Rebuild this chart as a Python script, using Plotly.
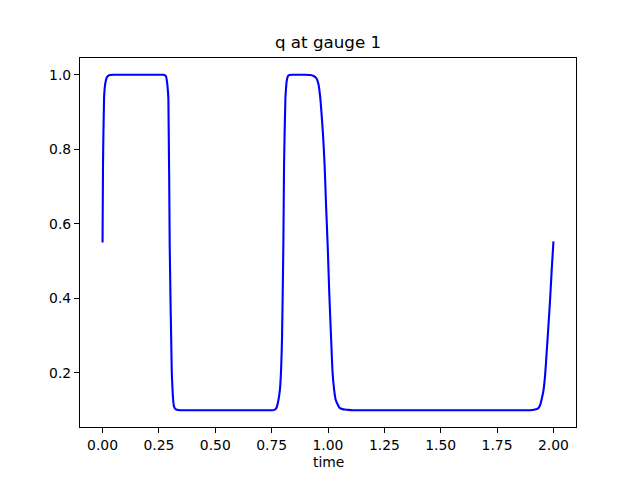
import plotly.graph_objects as go

# time and q values
time = [0.0, 0.002, 0.0067, 0.011, 0.015, 0.020, 0.026, 0.033, 0.05, 0.10, 0.20,
        0.268, 0.276, 0.282, 0.285, 0.288, 0.292, 0.298, 0.307, 0.310, 0.313,
        0.317, 0.322, 0.330, 0.344, 0.40, 0.50, 0.60, 0.70,
        0.752, 0.762, 0.770, 0.775, 0.781, 0.787, 0.792, 0.796, 0.802,
        0.805, 0.811, 0.814, 0.817, 0.823, 0.830, 0.841, 0.87,
        0.898, 0.928, 0.938, 0.945, 0.950, 0.958, 0.965, 0.971, 0.978, 0.985,
        0.991, 0.999, 1.006, 1.014, 1.020, 1.027, 1.034, 1.045, 1.053, 1.064,
        1.076, 1.09, 1.107, 1.20, 1.40, 1.60, 1.80, 1.896, 1.918, 1.932, 1.941,
        1.949, 1.956, 1.963, 1.970, 1.977, 1.985, 1.992, 2.0]
q = [0.55, 0.757, 0.937, 0.972, 0.985, 0.994, 0.998, 0.9995, 1.0, 1.0, 1.0,
     1.0, 0.999, 0.995, 0.985, 0.97, 0.936, 0.536, 0.203, 0.16, 0.13,
     0.11, 0.104, 0.101, 0.1, 0.1, 0.1, 0.1, 0.1,
     0.1, 0.101, 0.105, 0.113, 0.13, 0.157, 0.21, 0.291, 0.544,
     0.757, 0.936, 0.965, 0.984, 0.997, 0.9995, 1.0, 1.0,
     1.0, 0.999, 0.996, 0.993, 0.989, 0.974, 0.942, 0.899, 0.838, 0.757,
     0.656, 0.535, 0.409, 0.289, 0.204, 0.156, 0.128, 0.113, 0.1055, 0.103,
     0.102, 0.101, 0.1, 0.1, 0.1, 0.1, 0.1, 0.1, 0.102, 0.105, 0.114,
     0.133, 0.154, 0.194, 0.256, 0.320, 0.396, 0.474, 0.553]

xticks = [0.0, 0.25, 0.5, 0.75, 1.0, 1.25, 1.5, 1.75, 2.0]
yticks = [0.2, 0.4, 0.6, 0.8, 1.0]

FONT = "DejaVu Sans"

fig = go.Figure()
fig.add_trace(go.Scatter(x=time, y=q, mode="lines",
                         line=dict(color="#0000ff", width=2.1,
                                   shape="spline", smoothing=0.5),
                         showlegend=False))

axis_common = dict(showgrid=False, zeroline=False, showline=True, mirror=True,
                   linecolor="black", linewidth=1.1, ticks="outside",
                   ticklen=5, tickwidth=1.1, tickcolor="black",
                   tickfont=dict(family=FONT, size=13.9, color="black"))

# page body has an 8px margin, so offsets are compensated
fig.update_layout(
    width=640, height=480,
    margin=dict(l=72, r=72, t=50, b=61, pad=0),
    paper_bgcolor="white", plot_bgcolor="white",
    xaxis=dict(range=[-0.1, 2.1], tickvals=xticks,
               ticktext=[f"{v:.2f}" for v in xticks], **axis_common),
    yaxis=dict(range=[0.055, 1.045], tickvals=yticks,
               ticktext=[f"{v:.1f}" for v in yticks], **axis_common),
    title=dict(text="q at gauge 1", x=0.5, xref="paper",
               y=1 - 34 / 480, yanchor="middle",
               font=dict(family=FONT, size=16.7, color="black")),
    annotations=[dict(text="time", x=0.5, xref="paper", y=-0.094, yref="paper",
                      xanchor="center", yanchor="middle", showarrow=False,
                      font=dict(family=FONT, size=13.9, color="black"))],
)

fig.write_html("out.html")
